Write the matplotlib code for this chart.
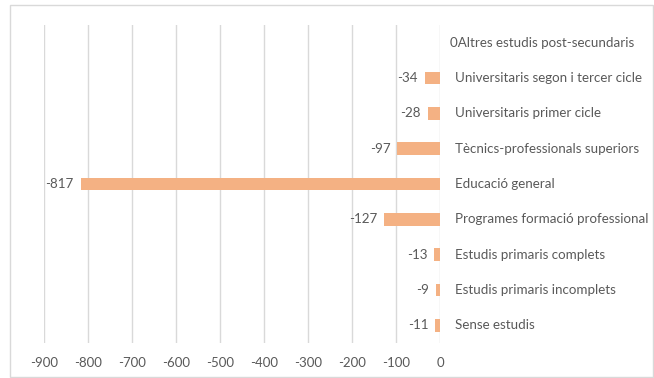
import matplotlib.pyplot as plt
from matplotlib.patches import Rectangle

categories = [
    "Altres estudis post-secundaris",
    "Universitaris segon i tercer cicle",
    "Universitaris primer cicle",
    "Tècnics-professionals superiors",
    "Educació general",
    "Programes formació professional",
    "Estudis primaris complets",
    "Estudis primaris incomplets",
    "Sense estudis",
]
values = [0, -34, -28, -97, -817, -127, -13, -9, -11]
xticks = list(range(-900, 1, 100))

bar_color = "#F4B183"
text_color = "#595959"
grid_color = "#D9D9D9"

plt.rcParams["font.family"] = ["Lato", "DejaVu Sans"]

fig = plt.figure(figsize=(6.54, 3.78), dpi=100)
fig.patches.append(Rectangle((10 / 654, 1 / 378), 643 / 654, 372 / 378,
                             transform=fig.transFigure, fill=False,
                             edgecolor=grid_color, linewidth=1))
ax = fig.add_axes([44 / 654, 35 / 378, 396 / 654, 318 / 378])

ypos = list(range(len(categories)))
ax.barh(ypos, values, height=0.35, color=bar_color)

ax.set_xlim(-900, 0)
ax.set_ylim(len(categories) - 0.5, -0.5)
ax.set_xticks(xticks)
ax.set_xticklabels([str(t) for t in xticks])
ax.set_yticks([])
ax.grid(axis="x", color=grid_color, linewidth=1)
ax.set_axisbelow(True)
for s in ax.spines.values():
    s.set_visible(False)
ax.tick_params(axis="x", length=0, pad=10, labelsize=9.5, labelcolor=text_color)

fs = 9.6
for y, v, c in zip(ypos, values, categories):
    if v < 0:
        ax.annotate(str(v), (v, y), xytext=(-5, 0), textcoords="offset points",
                    ha="right", va="center", fontsize=fs, color=text_color)
        ax.annotate(c, (0, y), xytext=(11, 0), textcoords="offset points",
                    ha="left", va="center", fontsize=fs, color=text_color,
                    annotation_clip=False)
    else:
        ax.annotate(str(v) + c, (0, y), xytext=(7, 0), textcoords="offset points",
                    ha="left", va="center", fontsize=fs, color=text_color,
                    annotation_clip=False)

fig.savefig("out.png", dpi=100)
